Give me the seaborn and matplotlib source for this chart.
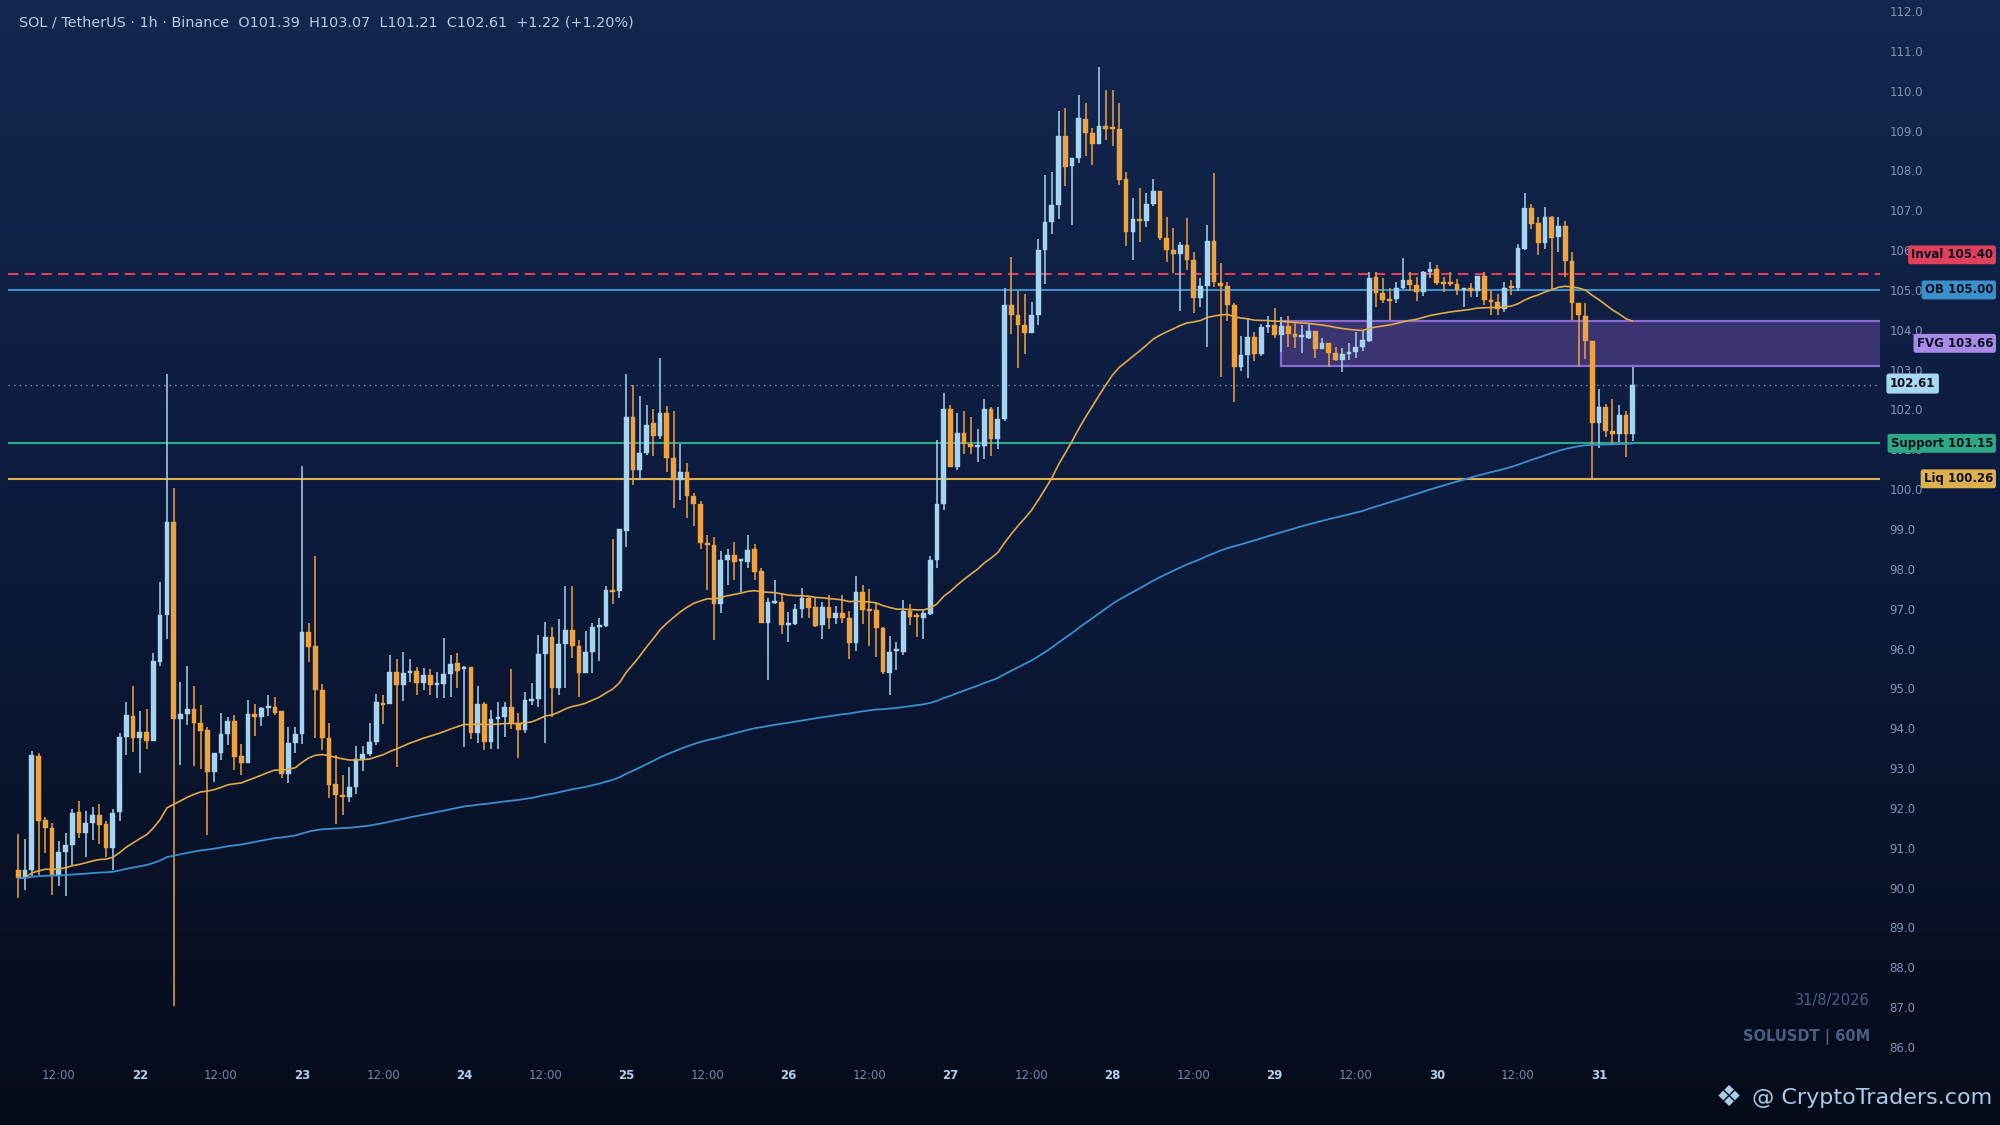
import numpy as np
import pandas as pd
import matplotlib
matplotlib.use("Agg")
import matplotlib.pyplot as plt
import seaborn as sns
from matplotlib.colors import LinearSegmentedColormap
from matplotlib.patches import Rectangle

# ---------------- data ----------------
opens = [90.44, 90.24, 90.43, 93.30, 91.70, 91.49, 90.32, 90.89, 91.06, 91.90,
         91.36, 91.62, 91.82, 91.60, 90.99, 91.89, 93.77, 94.31, 93.75, 93.90,
         93.69, 95.67, 96.84, 99.17, 94.23, 94.35, 94.48, 94.13, 93.96, 92.91,
         93.37, 93.85, 94.18, 93.30, 93.12, 94.35, 94.29, 94.50, 94.53, 94.43,
         92.85, 93.64, 93.85, 96.41, 96.06, 94.96, 93.75, 92.60, 92.32, 92.27,
         92.52, 93.22, 93.35, 93.65, 94.64, 94.60, 95.41, 95.08, 95.38, 95.44,
         95.13, 95.33, 95.08, 95.10, 95.35, 95.63, 95.48, 95.54, 93.87, 94.60,
         93.66, 94.22, 94.28, 94.54, 94.12, 93.95, 94.68, 94.73, 95.86, 96.28,
         95.00, 96.11, 96.46, 96.06, 95.38, 95.91, 96.53, 96.56, 97.46, 97.45,
         98.96, 101.80, 100.49, 100.91, 101.65, 101.34, 101.92, 100.77, 100.24, 100.42,
         99.83, 99.62, 98.62, 98.59, 97.13, 98.22, 98.36, 98.20, 98.18, 98.49,
         97.94, 96.65, 97.15, 97.17, 96.58, 96.61, 96.98, 97.27, 97.05, 96.58,
         97.03, 96.76, 96.89, 96.76, 96.13, 97.42, 96.99, 96.97, 96.51, 95.39,
         95.93, 95.92, 96.95, 96.80, 96.76, 96.87, 98.21, 99.63, 102.02, 100.55,
         101.42, 101.14, 101.07, 101.08, 102.00, 101.27, 101.76, 104.63, 104.37, 104.11,
         103.92, 104.38, 106.00, 106.71, 107.13, 108.87, 108.11, 108.32, 109.29, 108.93,
         108.65, 109.11, 109.07, 109.04, 107.78, 106.46, 106.79, 106.73, 107.16, 107.48,
         106.31, 106.00, 105.90, 106.13, 105.75, 104.79, 105.10, 106.23, 105.17, 105.10,
         104.61, 103.06, 103.37, 103.83, 103.38, 104.08, 104.12, 103.87, 104.10, 103.90,
         103.82, 103.80, 103.98, 103.52, 103.68, 103.42, 103.24, 103.39, 103.45, 103.58,
         103.73, 105.32, 104.93, 104.77, 104.77, 105.04, 105.26, 105.12, 104.96, 105.44,
         105.52, 105.19, 105.19, 105.15, 105.01, 105.05, 104.98, 105.34, 104.75, 104.69,
         104.52, 105.07, 105.04, 106.03, 107.05, 106.67, 106.18, 106.82, 106.32, 106.61,
         105.73, 104.67, 104.35, 103.73, 101.66, 102.06, 101.45, 101.39, 101.87, 101.39]
highs = [91.34, 91.22, 93.44, 93.37, 91.77, 91.63, 91.16, 91.38, 91.98, 92.18,
         91.93, 92.02, 92.09, 91.66, 91.98, 93.89, 94.67, 95.05, 94.43, 94.48,
         95.88, 97.66, 102.88, 100.04, 95.17, 95.57, 95.05, 94.58, 94.04, 93.37,
         94.39, 94.28, 94.33, 93.61, 94.71, 94.60, 94.53, 94.84, 94.79, 94.43,
         94.04, 94.04, 100.58, 96.63, 98.33, 95.10, 94.14, 93.33, 92.83, 93.02,
         93.55, 93.55, 94.14, 94.86, 94.83, 95.85, 95.73, 95.92, 95.73, 95.54,
         95.50, 95.49, 95.42, 96.27, 95.84, 95.90, 95.57, 95.54, 95.06, 94.67,
         94.46, 94.67, 94.65, 95.48, 94.37, 94.92, 95.14, 96.34, 96.67, 96.53,
         96.73, 97.57, 97.57, 96.21, 96.44, 96.63, 96.76, 97.57, 98.74, 99.01,
         102.88, 102.61, 102.34, 102.11, 102.01, 103.30, 102.09, 101.97, 101.13, 100.66,
         99.91, 99.71, 98.86, 98.80, 98.45, 98.49, 98.68, 98.24, 98.85, 98.62,
         98.03, 97.26, 97.73, 97.37, 96.92, 97.13, 97.53, 97.30, 97.30, 97.16,
         97.34, 97.06, 97.35, 96.95, 97.83, 97.60, 97.50, 97.18, 96.53, 96.32,
         96.16, 97.21, 97.11, 96.90, 97.00, 98.32, 101.24, 102.42, 102.11, 101.92,
         101.95, 101.81, 101.50, 102.27, 102.06, 102.06, 105.06, 105.82, 104.98, 104.90,
         104.70, 106.27, 107.88, 107.97, 109.50, 109.56, 108.32, 109.90, 109.70, 109.07,
         110.59, 110.01, 110.01, 109.70, 107.95, 107.30, 107.57, 107.43, 107.78, 107.48,
         106.82, 106.55, 106.20, 106.80, 105.94, 105.31, 106.63, 107.93, 105.67, 105.19,
         104.66, 103.84, 104.29, 103.95, 104.14, 104.35, 104.54, 104.31, 104.35, 104.19,
         104.12, 104.16, 103.98, 103.79, 103.68, 103.56, 103.53, 103.66, 103.95, 103.97,
         105.44, 105.44, 105.29, 105.04, 105.19, 105.80, 105.46, 105.32, 105.48, 105.71,
         105.63, 105.32, 105.44, 105.27, 105.05, 105.17, 105.36, 105.44, 105.01, 104.90,
         105.19, 105.26, 106.15, 107.42, 107.16, 106.82, 107.07, 106.86, 106.82, 106.74,
         105.94, 104.67, 104.67, 103.73, 102.52, 102.14, 102.26, 102.12, 101.95, 103.07]
lows = [89.73, 89.94, 90.28, 90.32, 90.86, 89.82, 90.04, 89.78, 90.57, 91.24,
        90.76, 91.20, 91.09, 90.78, 90.44, 91.68, 93.33, 93.40, 92.87, 93.47,
        93.69, 95.55, 96.23, 87.02, 93.08, 94.08, 93.04, 92.97, 91.32, 92.64,
        93.20, 93.58, 92.94, 92.83, 93.12, 93.81, 94.06, 94.31, 94.33, 92.74,
        92.62, 93.37, 93.60, 95.67, 93.75, 93.45, 92.24, 91.60, 91.82, 92.16,
        92.35, 92.93, 93.30, 93.58, 94.10, 94.60, 93.03, 94.69, 95.17, 94.83,
        94.96, 94.83, 94.75, 94.77, 94.79, 95.02, 93.52, 93.72, 93.64, 93.45,
        93.47, 93.49, 93.79, 93.97, 93.26, 93.89, 94.58, 94.54, 93.64, 94.28,
        94.83, 95.00, 95.75, 94.79, 95.38, 95.39, 95.69, 96.53, 97.13, 97.26,
        98.55, 100.10, 100.23, 100.85, 100.84, 101.26, 100.44, 99.52, 99.74, 99.27,
        99.07, 98.49, 97.47, 96.21, 96.88, 97.59, 97.72, 97.42, 98.03, 97.72,
        96.63, 95.22, 97.13, 96.36, 96.17, 96.59, 96.76, 96.76, 96.53, 96.23,
        96.48, 96.61, 96.65, 95.74, 95.95, 96.61, 96.06, 95.79, 95.35, 94.84,
        95.46, 95.84, 96.58, 96.30, 96.23, 96.85, 98.02, 99.48, 100.55, 100.48,
        100.87, 100.87, 100.69, 100.76, 100.84, 101.00, 101.71, 103.90, 103.03, 103.39,
        103.92, 104.11, 105.16, 106.40, 106.79, 107.60, 106.63, 108.19, 108.36, 108.13,
        108.65, 108.76, 108.61, 107.63, 106.11, 105.75, 106.21, 106.59, 107.11, 106.25,
        105.71, 105.42, 104.46, 105.50, 104.43, 104.58, 103.58, 105.08, 102.82, 104.22,
        102.18, 102.97, 102.78, 103.22, 103.33, 103.91, 103.80, 103.45, 103.58, 103.54,
        103.41, 103.77, 103.28, 103.52, 103.07, 103.22, 102.95, 103.24, 103.28, 103.47,
        103.70, 104.58, 104.67, 104.25, 104.66, 105.02, 104.98, 104.71, 104.84, 105.29,
        105.13, 104.96, 105.11, 104.88, 104.58, 104.83, 104.83, 104.62, 104.38, 104.38,
        104.44, 104.87, 104.98, 106.01, 106.53, 105.88, 106.03, 105.02, 105.94, 105.32,
        104.25, 103.08, 103.27, 100.26, 101.03, 101.30, 101.13, 101.19, 100.80, 101.21]
closes = [90.24, 90.43, 93.33, 91.67, 91.49, 90.32, 90.89, 91.06, 91.87, 91.36,
          91.62, 91.83, 91.56, 90.99, 91.87, 93.77, 94.33, 93.75, 93.90, 93.69,
          95.69, 96.84, 99.17, 94.23, 94.35, 94.48, 94.13, 93.92, 92.91, 93.37,
          93.85, 94.18, 93.27, 93.12, 94.35, 94.29, 94.50, 94.53, 94.39, 92.85,
          93.64, 93.85, 96.41, 96.05, 94.96, 93.75, 92.57, 92.32, 92.27, 92.52,
          93.22, 93.35, 93.65, 94.65, 94.58, 95.41, 95.08, 95.38, 95.44, 95.13,
          95.34, 95.08, 95.10, 95.35, 95.60, 95.44, 95.54, 93.87, 94.60, 93.66,
          94.22, 94.28, 94.54, 94.12, 93.95, 94.71, 94.73, 95.86, 96.28, 95.00,
          96.11, 96.46, 96.06, 95.38, 95.91, 96.53, 96.56, 97.48, 97.43, 98.99,
          101.80, 100.49, 100.91, 101.62, 101.34, 101.90, 100.77, 100.24, 100.42, 99.83,
          99.62, 98.64, 98.59, 97.13, 98.22, 98.35, 98.18, 98.22, 98.47, 97.93,
          96.65, 97.16, 97.17, 96.59, 96.63, 96.98, 97.27, 97.02, 96.56, 97.03,
          96.76, 96.88, 96.76, 96.13, 97.43, 96.97, 96.95, 96.51, 95.42, 95.92,
          95.95, 96.95, 96.79, 96.78, 96.90, 98.21, 99.63, 102.02, 100.55, 101.42,
          101.14, 101.06, 101.08, 102.00, 101.27, 101.76, 104.63, 104.37, 104.11, 103.92,
          104.38, 106.00, 106.71, 107.13, 108.87, 108.09, 108.32, 109.32, 108.93, 108.65,
          109.12, 109.05, 109.03, 107.77, 106.46, 106.78, 106.74, 107.16, 107.48, 106.30,
          106.00, 105.90, 106.13, 105.75, 104.79, 105.10, 106.23, 105.19, 105.11, 104.61,
          103.06, 103.37, 103.83, 103.38, 104.08, 104.12, 103.87, 104.10, 103.90, 103.82,
          103.84, 103.98, 103.52, 103.68, 103.42, 103.24, 103.39, 103.45, 103.58, 103.74,
          105.29, 104.92, 104.75, 104.73, 105.04, 105.26, 105.12, 104.96, 105.44, 105.52,
          105.17, 105.15, 105.15, 105.01, 105.05, 104.98, 105.36, 104.75, 104.69, 104.52,
          105.04, 105.04, 106.04, 107.05, 106.65, 106.19, 106.82, 106.30, 106.61, 105.72,
          104.67, 104.37, 103.73, 101.66, 102.06, 101.45, 101.39, 101.87, 101.39, 102.61]

start_time = "2026-08-21 06:00"
level_names = ["Inval", "OB", "Support", "Liq"]
level_values = [105.40, 105.00, 101.15, 100.26]
level_colors = ["#e0405c", "#3a90c8", "#2ea882", "#dfb04e"]
level_styles = [(0, (5, 3)), "-", "-", "-"]
fvg_low, fvg_high = 103.10, 104.22
fvg_start_index = 187
last_price = 102.61
title_text = "SOL / TetherUS · 1h · Binance  O101.39  H103.07  L101.21  C102.61  +1.22 (+1.20%)"

df = pd.DataFrame({"time": pd.date_range(start_time, periods=len(closes), freq="h"),
                   "open": opens, "high": highs, "low": lows, "close": closes})
df["x"] = np.arange(len(df))
df["ema50"] = df["close"].ewm(span=50, adjust=False).mean()
df["ema200"] = df["close"].ewm(span=200, adjust=False).mean()

# ---------------- style ----------------
sns.set_theme(style="dark")
plt.rcParams["font.family"] = ["DejaVu Sans"]

W, H = 2000, 1125
fig = plt.figure(figsize=(20, 11.25), dpi=100)
bg = fig.add_axes([0, 0, 1, 1], zorder=-10)
cmap = LinearSegmentedColormap.from_list("bg", ["#13274f", "#0c1a3b", "#050b18"])
bg.imshow(np.linspace(0, 1, 256)[:, None], aspect="auto", cmap=cmap,
          extent=[0, 1, 0, 1], origin="upper")
bg.axis("off")

L, R, T, B = 8, 1880, 11, 1047
ax = fig.add_axes([L / W, (H - B) / H, (R - L) / W, (B - T) / H])
ax.patch.set_alpha(0)
for s in ax.spines.values():
    s.set_visible(False)
ax.grid(False)

up_col, dn_col = "#a6d3ef", "#f0a23e"
up = df["close"] >= df["open"]
cols = np.where(up, up_col, dn_col)
body_lo = np.minimum(df["open"], df["close"])
body_h = np.maximum(np.abs(df["close"] - df["open"]), 0.05)

# FVG zone
ax.add_patch(Rectangle((fvg_start_index, fvg_low), 400, fvg_high - fvg_low,
                       facecolor="#3a3470", edgecolor="#8c6bd6", lw=1.6, zorder=1))

ax.vlines(df["x"], df["low"], df["high"], colors=cols, lw=1.1, zorder=3)
ax.bar(df["x"], body_h, bottom=body_lo, width=0.7, color=cols, edgecolor=cols,
       lw=0.3, zorder=4)

sns.lineplot(data=df, x="x", y="ema50", ax=ax, color="#e2aa48", lw=1.2, zorder=5)
sns.lineplot(data=df, x="x", y="ema200", ax=ax, color="#3b8ed0", lw=1.3, zorder=5)

for v, c, ls in zip(level_values, level_colors, level_styles):
    ax.axhline(v, color=c, lw=1.5, ls=ls, zorder=2)
ax.axhline(last_price, color="#7f8fae", lw=1.0, ls=(0, (1, 3)), zorder=2)

ax.set_xlim(-1.52, 275.6)
ax.set_ylim(86, 112)

# x ticks from timestamps
tick_mask = df["time"].dt.hour.isin([0, 12]) & (df["time"].dt.minute == 0)
tdf = df[tick_mask]
labels = [str(t.day) if t.hour == 0 else "12:00" for t in tdf["time"]]
ax.set_xticks(tdf["x"])
ax.set_xticklabels(labels)
for lab, t in zip(ax.get_xticklabels(), tdf["time"]):
    if t.hour == 0:
        lab.set_fontweight("bold")
        lab.set_color("#b3d0ee")
    else:
        lab.set_color("#7489ad")
    lab.set_fontsize(8.5)
ax.tick_params(axis="x", length=0, pad=16)
ax.set_xlabel("")
ax.set_ylabel("")

ax.yaxis.tick_right()
ax.set_yticks(np.arange(86, 112.1, 1.0))
ax.set_yticklabels([f"{v:.1f}" for v in np.arange(86, 112.1, 1.0)])
ax.tick_params(axis="y", length=0, pad=7, labelsize=8.5, labelcolor="#8193b5")

# price tags on the right
ytr = ax.get_yaxis_transform()
def xa(px):
    return (px - L) / (R - L)
tag_kw = dict(fontsize=8.5, fontweight="bold", color="#0b1020", va="center",
              transform=ytr, clip_on=False, zorder=10)
tags = [("Inval 105.40", 105.88, level_colors[0]),
        ("OB 105.00", 105.00, level_colors[1]),
        ("FVG 103.66", (fvg_low + fvg_high) / 2, "#a98ae8"),
        ("Support 101.15", 101.15, level_colors[2]),
        ("Liq 100.26", 100.26, level_colors[3])]
for txt, yv, c in tags:
    ax.text(xa(1993), yv, txt, ha="right",
            bbox=dict(boxstyle="round,pad=0.25,rounding_size=0.2", fc=c, ec="none"), **tag_kw)
ax.text(xa(1890), last_price + 0.04, f"{last_price:.2f}", ha="left",
        bbox=dict(boxstyle="round,pad=0.3,rounding_size=0.2", fc="#a8d8f0", ec="none"), **tag_kw)

# title & watermarks
fig.text(19 / W, 1 - 23 / H, title_text, ha="left", va="center", fontsize=10.4, color="#b6cbe6")
fig.text(1870 / W, 1 - 1000 / H, "31/8/2026", ha="right", va="center", fontsize=10.5, color="#4a5e85")
fig.text(1870 / W, 1 - 1037 / H, "SOLUSDT | 60M", ha="right", va="center", fontsize=10.5,
         fontweight="bold", color="#4a5e85")
fig.text(1992 / W, 1 - 1098 / H, "@ CryptoTraders.com", ha="right", va="center", fontsize=16,
         color="#a9cde9")
fig.text(1729 / W, 1 - 1098 / H, "❖", ha="center", va="center", fontsize=21, color="#a9cde9")

fig.savefig("out.png", dpi=100)
